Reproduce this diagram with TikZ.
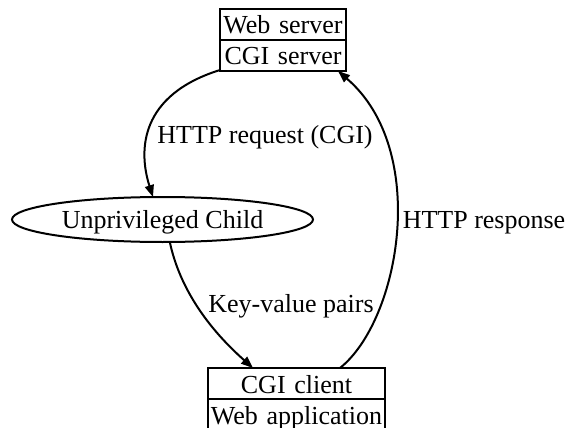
\documentclass[tikz,border=0pt]{standalone}
\usepackage{fontspec}
\setmainfont{Liberation Serif}
\usetikzlibrary{arrows.meta,shapes.geometric,calc}
\tikzset{
  field/.style={draw, line width=2pt, inner sep=0pt, outer sep=0pt, align=center,
    text height=25pt, text depth=6pt},
  oval/.style={draw, line width=2pt, ellipse, inner sep=0pt, outer sep=0pt,
    minimum width=301pt, minimum height=45pt},
  edge/.style={line width=2pt, -{Triangle[length=12pt,width=9pt]}},
  lbl/.style={inner sep=0pt, anchor=base},
}
\begin{document}
\begin{tikzpicture}[x=1pt,y=-1pt,font=\fontsize{26}{30}\selectfont]
\useasboundingbox (0,0) rectangle (568,428);
% server record
\node[field, text width=126pt, anchor=north] (web) at (283,9) {Web server};
\node[field, text width=126pt, anchor=north] (cgis) at (web.south) {CGI server};
% child process
\node[oval] (child) at (162.5,219.5) {};
\node[lbl] (childtxt) at (162.5,228) {Unprivileged Child};
% client record
\node[field, text width=177pt, anchor=north] (cgic) at (296.5,368) {CGI client};
\node[field, text width=177pt, anchor=north] (app) at (cgic.south) {Web application};
% edge endpoints on the record borders
\coordinate (rqs) at ($(cgis.south west)+(0,-1)$);
\coordinate (kvend) at ($(cgic.north west)+(45,0)$);
\coordinate (rsstart) at ($(cgic.north west)+(132,0)$);
\coordinate (rsend) at ($(cgis.south east)+(-8,0)$);
% connectors
\draw[edge] (rqs) .. controls (140,95) and (138,150) .. (child.113);
\draw[edge] (child.-72) .. controls (180,290) and (210,330) .. (kvend);
\draw[edge] (rsstart) .. controls (400,320) and (430,150) .. (rsend);
% edge labels
\node[lbl] (lreq) at (265,143) {HTTP request (CGI)};
\node[lbl] (lkv) at (291,312) {Key-value pairs};
\node[lbl] (lresp) at (484,228) {HTTP response};
\end{tikzpicture}
\end{document}
